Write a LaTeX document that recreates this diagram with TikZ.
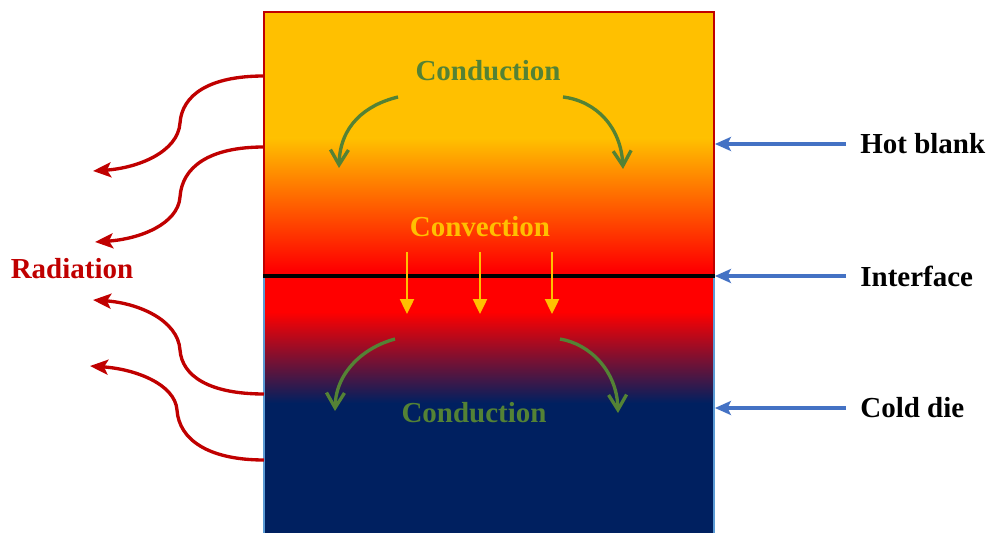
\documentclass[tikz,border=0pt]{standalone}
\usepackage{fontspec}
\setmainfont{Liberation Serif}
\usetikzlibrary{arrows.meta,positioning}
\definecolor{blankyellow}{RGB}{255,192,0}
\definecolor{blankorange}{RGB}{255,135,0}
\definecolor{blankred}{RGB}{255,0,0}
\definecolor{dieshade}{RGB}{112,18,58}
\definecolor{dienavy}{RGB}{0,32,96}
\definecolor{radred}{RGB}{192,0,0}
\definecolor{dieedge}{RGB}{91,155,213}
\definecolor{pointblue}{RGB}{68,114,196}
\definecolor{condgreen}{RGB}{84,130,53}

\begin{document}
\begin{tikzpicture}[
			x=0.02cm,y=-0.02cm,
			heattext/.style={
				font=\fontsize{16.5}{20}\selectfont\bfseries,
				inner sep=0pt
			},
			layerbox/.style={
				rectangle,
				minimum width=9cm,
				inner sep=0pt,
				line width=1.1pt
			},
			condarrow/.style={
				-{Straight Barb[length=3mm,width=3.6mm]},
				draw=condgreen,
				line width=1.9pt
			},
			convarrow/.style={
				-{Triangle[length=3mm,width=2.8mm]},
				draw=blankyellow,
				line width=1.4pt
			},
			radarrow/.style={
				-{Stealth[length=3.6mm,width=3mm,inset=0.8mm]},
				draw=radred,
				line width=1.9pt
			},
			pointarrow/.style={
				-{Stealth[length=3.2mm,width=2.8mm,inset=0.7mm]},
				draw=pointblue,
				line width=1.8pt,
				shorten <=0.28cm
			}
			]
			
			\useasboundingbox (0,0) rectangle (990,533);
			
			% temperature field
			\fill[blankyellow] (264,12) rectangle (714,138);
			\shade[top color=blankyellow,middle color=blankorange,bottom color=blankred]
			(264,138) rectangle (714,270);
			\fill[blankred] (264,270) rectangle (714,312);
			\shade[top color=blankred,middle color=dieshade,bottom color=dienavy]
			(264,312) rectangle (714,403);
			\fill[dienavy] (264,403) rectangle (714,545);
			
			\node[layerbox,draw=dieedge,minimum height=5.4cm] (die) at (489,410) {};
			\node[layerbox,draw=radred,minimum height=5.26cm] (blank) at (489,143.5) {};
			\draw[line width=1.8pt] (blank.south west) -- (blank.south east);
			
			% labels
			\node[heattext,text=condgreen] (condtop) at (488,71) {Conduction};
			\node[heattext,text=blankyellow] (conv) at (480,227) {Convection};
			\node[heattext,text=condgreen] (condbot) at (474,413) {Conduction};
			\node[heattext,text=radred] (rad) at (72,269) {Radiation};
			\node[heattext,anchor=west] (hot) at (860,144) {Hot blank};
			\node[heattext,anchor=west] (iface) at (860,276) {Interface};
			\node[heattext,anchor=west] (cold) at (860,408) {Cold die};
			
			% conduction
			\coordinate (ct1) at (398,97);  \coordinate (ct1e) at (339,168);
			\coordinate (ct2) at (563,97);  \coordinate (ct2e) at (623,169);
			\coordinate (cb1) at (395,339); \coordinate (cb1e) at (335,411);
			\coordinate (cb2) at (560,339); \coordinate (cb2e) at (618,413);
			\draw[condarrow] (ct1) .. controls +(-33,8) and +(1,-42) .. (ct1e);
			\draw[condarrow] (ct2) .. controls +(33,4) and +(-2,-42) .. (ct2e);
			\draw[condarrow] (cb1) .. controls +(-30,8) and +(1,-40) .. (cb1e);
			\draw[condarrow] (cb2) .. controls +(30,5) and +(-1,-42) .. (cb2e);
			
			% convection
			\coordinate (cv1) at (407,252);
			\coordinate (cv2) at (480,252);
			\coordinate (cv3) at (552,252);
			\draw[convarrow] (cv1) -- ++(0,62);
			\draw[convarrow] (cv2) -- ++(0,62);
			\draw[convarrow] (cv3) -- ++(0,62);
			
			% radiation
			\coordinate (r1) at (264,76);  \coordinate (r1e) at (93,171);
			\coordinate (r2) at (264,147); \coordinate (r2e) at (95,242);
			\coordinate (r3) at (264,394); \coordinate (r3e) at (93,300);
			\coordinate (r4) at (264,460); \coordinate (r4e) at (90,366);
			\draw[radarrow] (r1) .. controls +(-55,0) and +(2,-28) .. (180,123)
			.. controls +(-2,29) and +(45,-3) .. (r1e);
			\draw[radarrow] (r2) .. controls +(-55,0) and +(2,-30) .. (180,197)
			.. controls +(-2,27) and +(45,-3) .. (r2e);
			\draw[radarrow] (r3) .. controls +(-55,0) and +(2,26) .. (180,350)
			.. controls +(-2,-30) and +(45,3) .. (r3e);
			\draw[radarrow] (r4) .. controls +(-55,0) and +(2,30) .. (177,410)
			.. controls +(-2,-26) and +(45,3) .. (r4e);
			
			% pointers
			\draw[pointarrow] (hot.west) -- (hot.west -| blank.east);
			\draw[pointarrow] (iface.west) -- (iface.west -| blank.east);
			\draw[pointarrow] (cold.west) -- (cold.west -| die.east);
			
		\end{tikzpicture}
\end{document}
